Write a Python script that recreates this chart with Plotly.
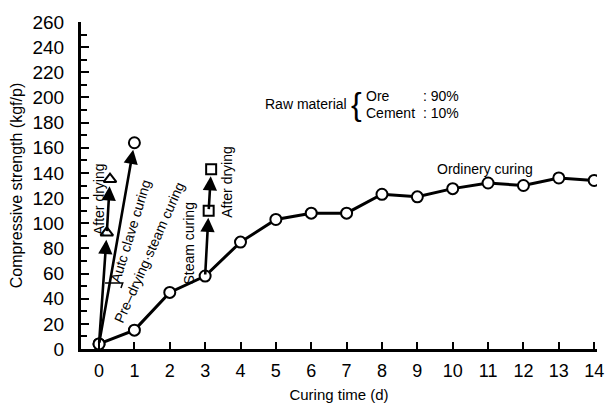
import plotly.graph_objects as go

# ---- data ----
days = list(range(15))
ordinary = [4, 15, 45, 58, 85, 103, 108, 108, 123, 121, 127.5, 132, 130, 136, 134]

autoclave_x = [0, 1]
autoclave_y = [4, 164]

after_dry1_x = [0, 0.22, 0.31]
after_dry1_y = [4, 92.5, 135]

steam_x = [3, 3.1, 3.17]
steam_y = [58, 110, 143]

predry_x = [0.17, 0.67, 0.62]
predry_y = [52.5, 52.5, 48.5]

FONT = "Liberation Sans Narrow, Liberation Sans, Arial, sans-serif"

fig = go.Figure()

# pre-drying leader
fig.add_trace(go.Scatter(x=predry_x, y=predry_y, mode="lines",
                         line=dict(color="black", width=1.5), hoverinfo="skip"))

# ordinary curing
fig.add_trace(go.Scatter(x=days, y=ordinary, mode="lines+markers",
                         line=dict(color="black", width=3),
                         marker=dict(symbol="circle", size=11, color="white",
                                     line=dict(color="black", width=2))))

arrows = []
def add_arrows(xs, ys):
    for i in range(len(xs) - 1):
        arrows.append(dict(x=xs[i + 1], y=ys[i + 1], ax=xs[i], ay=ys[i],
                           xref="x", yref="y", axref="x", ayref="y",
                           showarrow=True, arrowhead=2, arrowsize=1.1,
                           arrowwidth=2.6, arrowcolor="black", standoff=7, text=""))

add_arrows(autoclave_x, autoclave_y)
add_arrows(after_dry1_x, after_dry1_y)
add_arrows(steam_x, steam_y)

# markers for special curing
fig.add_trace(go.Scatter(x=autoclave_x, y=autoclave_y, mode="markers",
                         marker=dict(symbol="circle", size=11, color="white",
                                     line=dict(color="black", width=2))))
fig.add_trace(go.Scatter(x=after_dry1_x[1:], y=after_dry1_y[1:], mode="markers",
                         marker=dict(symbol="triangle-up", size=11, color="white",
                                     line=dict(color="black", width=2))))
fig.add_trace(go.Scatter(x=steam_x[1:], y=steam_y[1:], mode="markers",
                         marker=dict(symbol="square", size=10, color="white",
                                     line=dict(color="black", width=2))))

tf = dict(family=FONT, size=14, color="black")
texts = [
    dict(x=0.02, y=119, text="After drying", textangle=-90),
    dict(x=0.89, y=94, text="Autc clave curing", textangle=-73),
    dict(x=1.43, y=77, text="Pre–drying·steam curing", textangle=-66),
    dict(x=2.55, y=84, text="Steam curing", textangle=-90),
    dict(x=3.62, y=133, text="After drying", textangle=-90),
    dict(x=10.9, y=143, text="Ordinery curing", textangle=0),
]
for t in texts:
    arrows.append(dict(xref="x", yref="y", showarrow=False, font=tf, **t))

# raw material block
tf2 = dict(family=FONT, size=14, color="black")
arrows += [
    dict(x=5.85, y=194.5, text="Raw material", xref="x", yref="y", showarrow=False, font=tf2),
    dict(x=7.27, y=194.5, text="{", xref="x", yref="y", showarrow=False,
         font=dict(family=FONT, size=32, color="black")),
    dict(x=7.5, y=201, text="Ore", xref="x", yref="y", xanchor="left", showarrow=False, font=tf2),
    dict(x=7.5, y=188, text="Cement", xref="x", yref="y", xanchor="left", showarrow=False, font=tf2),
    dict(x=9.1, y=201, text=": 90%", xref="x", yref="y", xanchor="left", showarrow=False, font=tf2),
    dict(x=9.1, y=188, text=": 10%", xref="x", yref="y", xanchor="left", showarrow=False, font=tf2),
]

fig.update_layout(
    width=616, height=414,
    margin=dict(l=81, r=16, t=18, b=54),
    paper_bgcolor="white", plot_bgcolor="white",
    showlegend=False,
    font=dict(family=FONT, size=16, color="black"),
    annotations=arrows,
)
fig.update_xaxes(range=[-0.51, 14.08], tickmode="array", tickvals=days,
                 ticktext=[str(d) for d in days],
                 ticks="inside", ticklen=7, tickwidth=1.5, tickcolor="black",
                 showline=True, linecolor="black", linewidth=2.5, mirror=False,
                 showgrid=False, zeroline=False,
                 ticklabelstandoff=4,
                 tickfont=dict(family=FONT, size=18),
                 title=dict(text="Curing time (d)", font=dict(family=FONT, size=15), standoff=10))
fig.update_yaxes(range=[0, 260], dtick=20, tick0=0,
                 ticks="inside", ticklen=8, tickwidth=1.5, tickcolor="black",
                 minor=dict(ticks="inside", dtick=10, ticklen=6, tickwidth=1.5, tickcolor="black"),
                 showline=True, linecolor="black", linewidth=3,
                 showgrid=False, zeroline=False,
                 ticklabelstandoff=10,
                 tickfont=dict(family=FONT, size=19),
                 title=dict(text="Compressive strength (kgf/p)", font=dict(family=FONT, size=16), standoff=6))

fig.write_html("out.html")
